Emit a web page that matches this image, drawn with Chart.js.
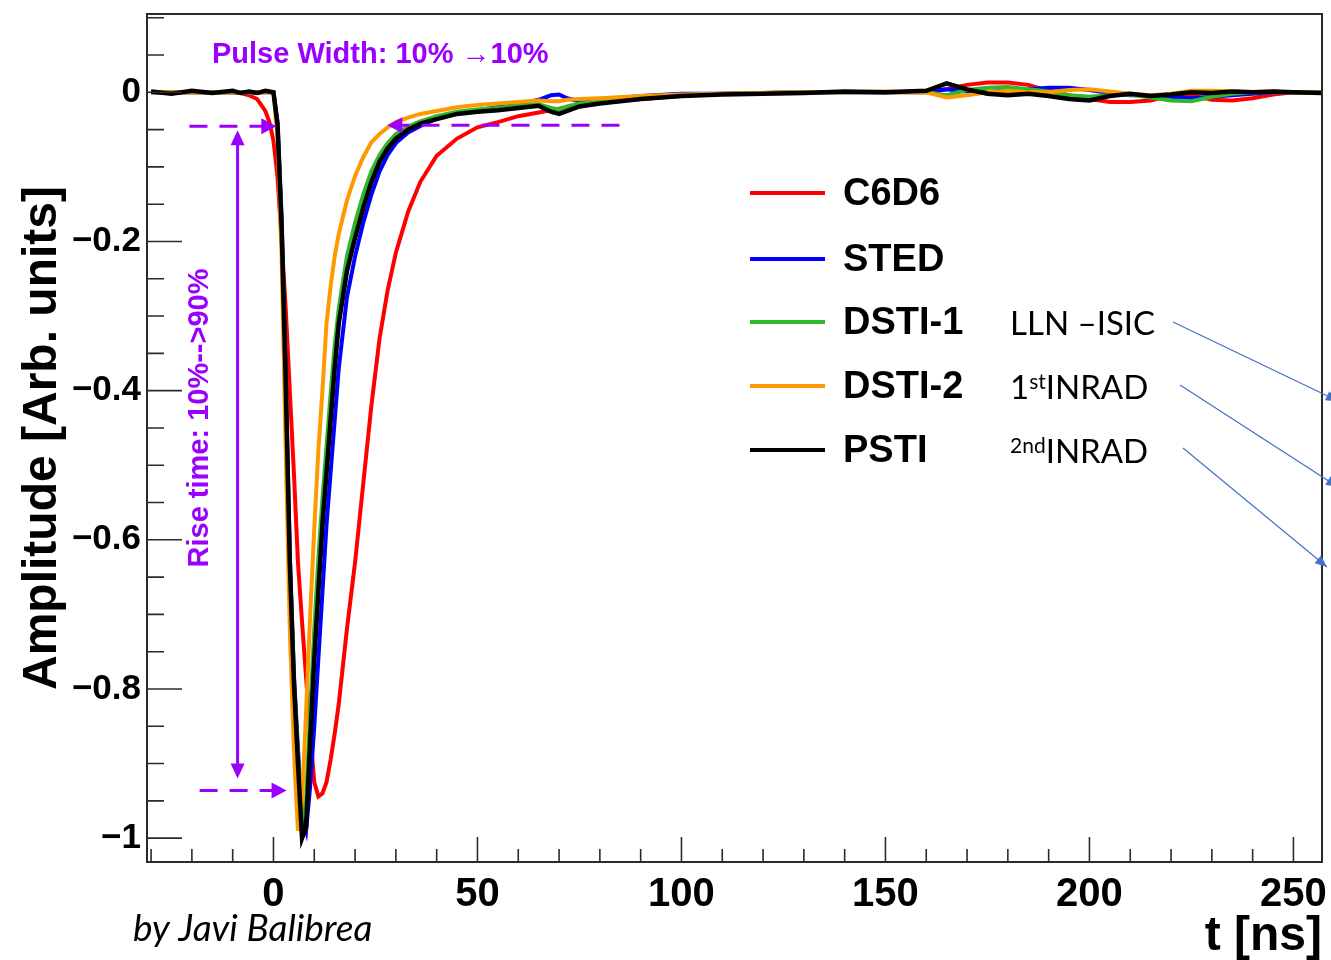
<!DOCTYPE html>
<html>
<head>
<meta charset="utf-8">
<title>Pulse shapes</title>
<script src="https://cdn.jsdelivr.net/npm/chart.js@4.4.1/dist/chart.umd.min.js"></script>
<style>
  body { margin: 0; background: #fff; }
  canvas { display: block; }
</style>
</head>
<body>
<canvas id="pulseChart" width="1331" height="960"></canvas>
<script>
// time axis in ns, shared by every trace
const times = [-30, -25, -20, -15, -10, -8, -6, -4, -2, -1,
    0, 1, 2, 3, 4, 5, 6, 7, 8, 9,
    10, 11, 12, 13, 14, 15, 16, 18, 20, 22,
    24, 26, 28, 30, 33, 36, 40, 45, 50, 55,
    60, 65, 68, 70, 72, 75, 80, 90, 100, 110,
    120, 130, 140, 150, 160, 165, 170, 175, 180, 185,
    190, 195, 200, 205, 210, 215, 220, 225, 230, 235,
    240, 245, 250, 257];

const c6d6 = [0, 0, 0, 0, 0, -0.001, -0.004, -0.009, -0.025, -0.04,
    -0.065, -0.114, -0.2, -0.29, -0.4, -0.51, -0.63, -0.71, -0.785, -0.86,
    -0.925, -0.944, -0.94, -0.925, -0.895, -0.86, -0.82, -0.72, -0.63, -0.525,
    -0.42, -0.33, -0.265, -0.215, -0.16, -0.12, -0.085, -0.062, -0.047, -0.04,
    -0.032, -0.027, -0.024, -0.022, -0.02, -0.018, -0.014, -0.009, -0.005, -0.002,
    -0.001, 0, 0, 0, 0, 0.004, 0.01, 0.013, 0.013, 0.01,
    0.002, -0.004, -0.009, -0.013, -0.013, -0.011, -0.004, -0.004, -0.01, -0.011,
    -0.008, -0.003, 0, 0];

const sted = [0, 0, 0, 0, 0, 0, 0, 0, 0, 0,
    0, -0.04, -0.17, -0.38, -0.62, -0.78, -0.88, -0.97, -0.99, -0.93,
    -0.85, -0.76, -0.67, -0.58, -0.51, -0.44, -0.37, -0.275, -0.22, -0.175,
    -0.137, -0.106, -0.084, -0.068, -0.054, -0.045, -0.035, -0.028, -0.024, -0.02,
    -0.016, -0.01, -0.004, -0.003, -0.008, -0.012, -0.01, -0.005, -0.002, -0.002,
    -0.001, 0, 0, 0, 0.001, 0.004, 0.001, 0, 0.003, 0.004,
    0.006, 0.006, 0.003, -0.001, -0.004, -0.004, -0.006, -0.008, -0.006, -0.004,
    -0.002, 0, 0, 0];

const dsti1 = [0, 0, 0, 0, 0, 0, 0, 0, 0, 0,
    0, -0.045, -0.18, -0.4, -0.63, -0.79, -0.89, -0.975, -0.95, -0.83,
    -0.72, -0.625, -0.545, -0.475, -0.405, -0.34, -0.29, -0.22, -0.175, -0.137,
    -0.106, -0.084, -0.068, -0.056, -0.046, -0.039, -0.032, -0.026, -0.023, -0.021,
    -0.018, -0.016, -0.021, -0.023, -0.019, -0.015, -0.012, -0.007, -0.004, -0.002,
    -0.001, 0, 0, 0, 0, -0.004, 0.003, 0.006, 0.007, 0.004,
    0.001, -0.004, -0.006, -0.004, -0.003, -0.007, -0.011, -0.012, -0.006, -0.002,
    0, 0, 0, 0];

const dsti2 = [0, 0, 0, 0, 0, 0, 0, 0, 0, 0,
    0, -0.06, -0.22, -0.48, -0.72, -0.88, -0.99, -0.95, -0.83, -0.7,
    -0.585, -0.48, -0.4, -0.31, -0.26, -0.22, -0.19, -0.145, -0.112, -0.087,
    -0.067, -0.056, -0.047, -0.04, -0.034, -0.029, -0.025, -0.02, -0.017, -0.015,
    -0.013, -0.011, -0.012, -0.012, -0.01, -0.009, -0.008, -0.005, -0.003, -0.002,
    -0.001, 0, 0, 0.001, 0, -0.007, -0.004, 0, 0.002, 0,
    0, 0.003, 0.004, 0.001, -0.002, -0.004, -0.002, 0.002, 0.002, 0.001,
    0, 0.001, 0, 0];

const psti = [0.001, -0.002, 0.002, -0.001, 0.002, -0.001, 0.001, -0.001, 0.002, 0.001,
    0, -0.044, -0.18, -0.39, -0.63, -0.79, -0.9, -1.0, -0.985, -0.87,
    -0.76, -0.67, -0.58, -0.51, -0.44, -0.37, -0.31, -0.24, -0.195, -0.155,
    -0.12, -0.093, -0.075, -0.062, -0.05, -0.042, -0.036, -0.029, -0.026, -0.024,
    -0.021, -0.018, -0.026, -0.029, -0.025, -0.019, -0.015, -0.009, -0.005, -0.003,
    -0.002, -0.001, 0.001, 0, 0.002, 0.012, 0.004, -0.002, -0.004, -0.002,
    -0.005, -0.009, -0.011, -0.005, -0.002, -0.005, -0.003, 0, -0.001, 0.001,
    0, 0.001, 0, -0.001];

const seriesNames = ['C6D6', 'STED', 'DSTI-1', 'DSTI-2', 'PSTI'];
const seriesColors = ['#ff0000', '#0000ff', '#2db82d', '#ff9900', '#000000'];
const seriesValues = [c6d6, sted, dsti1, dsti2, psti];

// minor tick positions (majors are every 50 ns / every 0.2)
const xTicks = [-30, -20, -10, 0, 10, 20, 30, 40, 50, 60, 70, 80, 90, 100, 110, 120, 130, 140,
    150, 160, 170, 180, 190, 200, 210, 220, 230, 240, 250];
const yTicks = [-1, -0.95, -0.9, -0.85, -0.8, -0.75, -0.7, -0.65, -0.6, -0.55, -0.5, -0.45,
    -0.4, -0.35, -0.3, -0.25, -0.2, -0.15, -0.1, -0.05, 0, 0.05, 0.1];

const purple = '#9b00ff';
const helv = '"Liberation Sans", Arial, Helvetica, sans-serif';

const arrowHead = (ctx, x, y, ang, len, half) => {
    const c = Math.cos(ang), s = Math.sin(ang);
    ctx.beginPath();
    ctx.moveTo(x, y);
    ctx.lineTo(x - len * c + half * s, y - len * s - half * c);
    ctx.lineTo(x - len * c - half * s, y - len * s + half * c);
    ctx.closePath();
    ctx.fill();
};

// keep the frame where ROOT put it, labels may spill over the edges
const noScalePadding = (s) => {
    s.paddingTop = 0;
    s.paddingBottom = 0;
    s.paddingLeft = 0;
    s.paddingRight = 0;
};

const overlay = {
    id: 'overlay',
    afterDraw(chart) {
        const {ctx, chartArea: a} = chart;
        const px = (t) => chart.scales.x.getPixelForValue(t);
        const py = (v) => chart.scales.y.getPixelForValue(v);
        ctx.save();

        // ROOT-like frame with ticks pointing inwards
        ctx.strokeStyle = '#2b2b2b';
        ctx.lineWidth = 2;
        ctx.strokeRect(a.left, a.top, a.right - a.left, a.bottom - a.top);
        ctx.lineWidth = 1.6;
        ctx.beginPath();
        xTicks.forEach((t) => {
            const len = t % 50 === 0 ? 25 : 13;
            ctx.moveTo(px(t), a.bottom);
            ctx.lineTo(px(t), a.bottom - len);
        });
        yTicks.forEach((v) => {
            const major = Math.abs(v / 0.2 - Math.round(v / 0.2)) < 1e-6;
            ctx.moveTo(a.left, py(v));
            ctx.lineTo(a.left + (major ? 35 : 17), py(v));
        });
        ctx.stroke();

        // legend
        const rowY = [193, 259, 322, 386, 450];
        ctx.textBaseline = 'middle';
        seriesNames.forEach((name, i) => {
            ctx.strokeStyle = seriesColors[i];
            ctx.lineWidth = 4;
            ctx.beginPath();
            ctx.moveTo(750, rowY[i]);
            ctx.lineTo(825, rowY[i]);
            ctx.stroke();
            ctx.fillStyle = '#000';
            ctx.font = 'bold 38px ' + helv;
            ctx.fillText(name, 843, rowY[i] + 2);
        });

        // producer notes next to legend
        const notes = [
            {row: 2, parts: [['LLN \u2013ISIC', false]]},
            {row: 3, parts: [['1', false], ['st', true], ['INRAD', false]]},
            {row: 4, parts: [['2nd', true], ['INRAD', false]]},
        ];
        ctx.textBaseline = 'alphabetic';
        ctx.fillStyle = '#000';
        notes.forEach((n) => {
            let x = 1010;
            n.parts.forEach(([txt, sup]) => {
                ctx.font = sup ? '21px Lato' : '33px Lato';
                ctx.fillText(txt, x, rowY[n.row] + (sup ? 3 : 13));
                x += ctx.measureText(txt).width;
            });
        });

        // blue pointer lines
        ctx.strokeStyle = '#4472c4';
        ctx.fillStyle = '#4472c4';
        ctx.lineWidth = 1.2;
        [[1173, 322, 1338, 401], [1180, 385, 1338, 487], [1183, 448, 1327, 567]].forEach(([x1, y1, x2, y2]) => {
            ctx.beginPath();
            ctx.moveTo(x1, y1);
            ctx.lineTo(x2, y2);
            ctx.stroke();
            arrowHead(ctx, x2, y2, Math.atan2(y2 - y1, x2 - x1), 12, 5);
        });

        // rise time / pulse width markers
        ctx.strokeStyle = purple;
        ctx.fillStyle = purple;
        ctx.lineWidth = 3;
        ctx.setLineDash([18, 12]);
        const dashed = [[-20.6, 0.7, -0.0456], [84.8, 27.9, -0.044], [-18.1, 3.2, -0.936]];
        dashed.forEach(([t1, t2, v]) => {
            const dir = Math.sign(t2 - t1);
            ctx.beginPath();
            ctx.moveTo(px(t1), py(v));
            ctx.lineTo(px(t2) - dir * 12, py(v));
            ctx.stroke();
        });
        ctx.setLineDash([]);
        dashed.forEach(([t1, t2, v]) => {
            arrowHead(ctx, px(t2), py(v), t2 > t1 ? 0 : Math.PI, 15, 8);
        });
        const xr = px(-8.8), yTop = py(-0.051), yBot = py(-0.92);
        ctx.beginPath();
        ctx.moveTo(xr, yTop + 10);
        ctx.lineTo(xr, yBot - 10);
        ctx.stroke();
        arrowHead(ctx, xr, yTop, -Math.PI / 2, 15, 7);
        arrowHead(ctx, xr, yBot, Math.PI / 2, 15, 7);

        ctx.font = 'bold 29px ' + helv;
        ctx.textBaseline = 'middle';
        ctx.fillText('Pulse Width: 10% \u219210%', 212, 55);
        ctx.save();
        ctx.translate(200, 418);
        ctx.rotate(-Math.PI / 2);
        ctx.textAlign = 'center';
        ctx.font = 'bold 29px ' + helv;
        ctx.fillText('Rise time: 10%-->90%', 0, 0);
        ctx.restore();

        // credit
        ctx.fillStyle = '#000';
        ctx.font = 'italic 37px Lato';
        ctx.textBaseline = 'alphabetic';
        ctx.fillText('by Javi Balibrea', 133, 941);
        ctx.restore();
    },
};

const renderPulseChart = () => {
    const ctx = document.getElementById('pulseChart').getContext('2d');
    const datasets = seriesNames.map((name, i) => ({
        label: name,
        data: times.map((t, k) => ({x: t, y: seriesValues[i][k]})),
        borderColor: seriesColors[i],
        borderWidth: i === 4 ? 4.5 : 4,
        pointRadius: 0,
        tension: 0,
        order: 5 - i,
    }));

    new Chart(ctx, {
        type: 'line',
        data: {datasets: datasets},
        options: {
            responsive: false,
            animation: false,
            devicePixelRatio: 1,
            layout: {padding: {top: 14, right: 9, left: 0, bottom: 0}},
            plugins: {legend: {display: false}, tooltip: {enabled: false}},
            scales: {
                x: {
                    type: 'linear',
                    min: -31,
                    max: 257,
                    grid: {display: false},
                    border: {display: false},
                    ticks: {
                        stepSize: 50,
                        includeBounds: false,
                        padding: 1,
                        maxRotation: 0,
                        color: '#000',
                        font: {family: helv, size: 40, weight: 'bold'},
                    },
                    title: {
                        display: true,
                        text: 't [ns]',
                        align: 'end',
                        color: '#000',
                        font: {family: helv, size: 48, weight: 'bold'},
                        padding: {top: 0, bottom: -6},
                    },
                    afterFit: (s) => { s.height = 98; noScalePadding(s); },
                },
                y: {
                    min: -1.032,
                    max: 0.105,
                    grid: {display: false},
                    border: {display: false},
                    ticks: {
                        stepSize: 0.2,
                        includeBounds: false,
                        padding: -2,
                        color: '#000',
                        font: {family: helv, size: 35, weight: 'bold'},
                        callback: (v) => (v < 0 ? '\u2212' : '') + parseFloat(Math.abs(v).toFixed(2)),
                    },
                    title: {
                        display: true,
                        text: 'Amplitude [Arb. units]',
                        color: '#000',
                        font: {family: helv, size: 48, weight: 'bold'},
                        padding: {top: 14, bottom: 0},
                    },
                    afterFit: (s) => { s.width = 147; noScalePadding(s); },
                },
            },
        },
        plugins: [overlay],
    });
};

window.addEventListener('load', renderPulseChart);
</script>
</body>
</html>
